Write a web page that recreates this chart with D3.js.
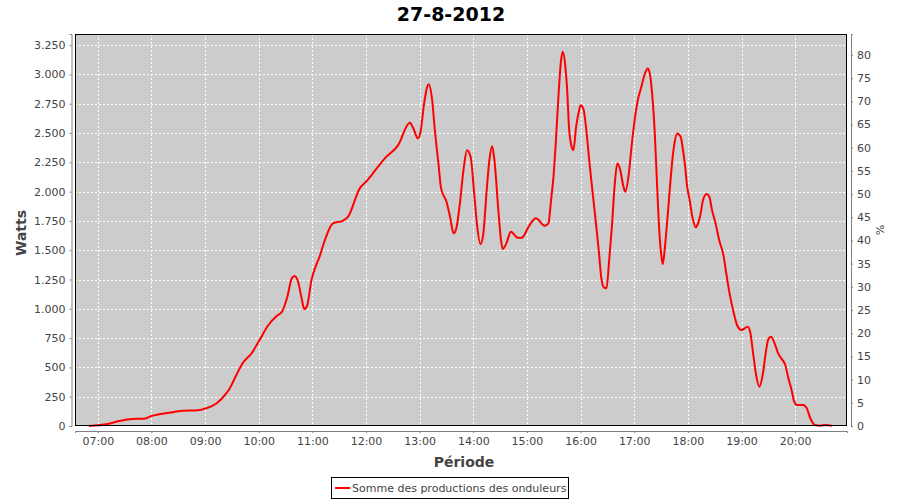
<!DOCTYPE html>
<html><head><meta charset="utf-8">
<script src="https://cdn.jsdelivr.net/npm/d3@7"></script>
<style>body{margin:0;background:#fff}svg{display:block}</style>
</head><body>
<svg id="c" width="900" height="500"></svg>
<script>
const title = "27-8-2012";
const seriesName = "Somme des productions des onduleurs";
const times = ["06:50","07:11","07:24","07:39","07:52","08:00","08:20","08:35","08:52","09:01","09:13","09:20","09:27","09:35","09:42","09:52","10:01","10:10","10:20","10:26","10:32","10:37","10:40","10:44","10:48","10:51","10:54","10:59","11:05","11:08","11:14","11:23","11:34","11:40","11:53","12:00","12:12","12:21","12:36","12:49","12:53","12:58","13:01","13:05","13:10","13:14","13:17","13:21","13:24","13:30","13:34","13:38","13:41","13:45","13:49","13:53","13:57","14:01","14:04","14:08","14:11","14:15","14:18","14:21","14:24","14:28","14:31","14:33","14:37","14:42","14:50","14:54","15:03","15:10","15:20","15:24","15:27","15:30","15:32","15:35","15:38","15:40","15:43","15:45","15:47","15:50","15:52","15:55","15:58","16:00","16:03","16:07","16:10","16:14","16:18","16:21","16:23","16:26","16:29","16:32","16:35","16:38","16:41","16:44","16:48","16:50","16:54","16:57","17:01","17:04","17:08","17:12","17:15","17:17","17:20","17:23","17:25","17:27","17:29","17:31","17:32","17:34","17:37","17:40","17:43","17:45","17:48","17:52","17:54","17:57","17:59","18:02","18:05","18:09","18:11","18:14","18:17","18:21","18:24","18:27","18:31","18:35","18:40","18:43","18:47","18:51","18:55","19:00","19:07","19:10","19:13","19:16","19:20","19:24","19:27","19:30","19:33","19:37","19:41","19:45","19:49","19:52","19:56","19:59","20:02","20:09","20:13","20:17","20:22","20:28","20:34","20:41"];
const watts = [0,17,43,60,62,85,113,130,134,151,194,245,313,435,535,620,734,853,938,975,1103,1260,1280,1231,1089,998,1024,1245,1388,1444,1587,1729,1751,1786,2028,2084,2198,2284,2397,2587,2539,2454,2511,2753,2917,2781,2525,2241,2028,1913,1786,1644,1686,1900,2184,2354,2297,1985,1729,1553,1629,2013,2269,2388,2241,1842,1587,1510,1558,1657,1606,1606,1715,1772,1709,1729,1928,2156,2383,2781,3108,3193,3065,2866,2553,2383,2354,2553,2681,2738,2710,2482,2241,1956,1672,1444,1274,1183,1175,1416,1700,2041,2241,2198,2041,1999,2156,2383,2639,2781,2894,3008,3051,3022,2838,2497,2156,1814,1558,1416,1382,1501,1757,2041,2297,2411,2497,2468,2383,2212,2056,1928,1786,1695,1721,1800,1928,1979,1956,1842,1729,1587,1450,1300,1117,975,862,819,847,791,620,450,335,450,620,740,762,705,620,572,520,421,307,207,179,179,151,66,9,3,9,3];
const xTickLabels = ["07:00","08:00","09:00","10:00","11:00","12:00","13:00","14:00","15:00","16:00","17:00","18:00","19:00","20:00"];
const wattTicks = [0,250,500,750,1000,1250,1500,1750,2000,2250,2500,2750,3000,3250];
const pctTicks = [0,5,10,15,20,25,30,35,40,45,50,55,60,65,70,75,80];

const day = "2012-08-27T";
const parse = s => new Date(day + s + ":00");
const data = times.map((t,i)=>({t:parse(t), v:watts[i]}));

const L=75, R=847, T=34, B=426;
const svg = d3.select("#c");
const x = d3.scaleTime().domain([new Date(day+"06:34:30"), new Date(day+"20:58:00")]).range([L,R]);
const y = d3.scaleLinear().domain([0,3345]).range([B,T]);
const y2 = d3.scaleLinear().domain([0,84.5]).range([B,T]);
const font = "DejaVu Sans, Verdana, sans-serif";

svg.append("rect").attr("x",L).attr("y",T).attr("width",R-L).attr("height",B-T).attr("fill","#cccccc");

// gridlines
const g = svg.append("g").attr("stroke","#fff").attr("stroke-width",1).attr("stroke-dasharray","2,2");
xTickLabels.forEach(h=>{const px=Math.round(x(parse(h)))+0.5;
  g.append("line").attr("x1",px).attr("x2",px).attr("y1",T).attr("y2",B);});
wattTicks.forEach(w=>{const py=Math.round(y(w))+0.5;
  g.append("line").attr("x1",L).attr("x2",R).attr("y1",py).attr("y2",py);});

// line
svg.append("path").datum(data)
  .attr("fill","none").attr("stroke","#ff0000").attr("stroke-width",2).attr("stroke-linejoin","round")
  .attr("d", d3.line().x(d=>x(d.t)).y(d=>y(d.v)).curve(d3.curveMonotoneX));

svg.append("rect").attr("x",L+0.5).attr("y",T+0.5).attr("width",R-L-1).attr("height",B-T-1)
  .attr("fill","none").attr("stroke","#000").attr("stroke-width",1);

// axes
const axCol = "#808080", txtCol = "#444";
function style(sel){
  sel.select(".domain").attr("stroke",axCol);
  sel.selectAll(".tick line").attr("stroke",axCol);
  sel.selectAll(".tick text").attr("fill",txtCol).attr("font-family",font).attr("font-size",11);
}
const xa = svg.append("g").attr("transform","translate(0,431)")
  .call(d3.axisBottom(x).tickValues(xTickLabels.map(parse)).tickFormat(d3.timeFormat("%H:%M")).tickSizeOuter(0).tickSize(2).tickPadding(4));
style(xa);
const ya = svg.append("g").attr("transform","translate(71.5,0)")
  .call(d3.axisLeft(y).tickValues(wattTicks).tickFormat(d=>d3.format(",")(d).replace(/,/g,".")).tickSizeOuter(0).tickSize(2).tickPadding(4));
style(ya);
const ya2 = svg.append("g").attr("transform","translate(851,0)")
  .call(d3.axisRight(y2).tickValues(pctTicks).tickSizeOuter(0).tickSize(2).tickPadding(4));
style(ya2);

// labels
svg.append("text").attr("x",451).attr("y",21).attr("text-anchor","middle")
  .attr("font-family",font).attr("font-weight","bold").attr("font-size",19).attr("fill","#000").text(title);
svg.append("text").attr("transform","translate(26,233) rotate(-90)").attr("text-anchor","middle")
  .attr("font-family",font).attr("font-weight","bold").attr("font-size",14).attr("fill",txtCol).text("Watts");
svg.append("text").attr("transform","translate(876,230) rotate(90)").attr("text-anchor","middle")
  .attr("font-family",font).attr("font-size",11).attr("fill",txtCol).text("%");
svg.append("text").attr("x",464).attr("y",467).attr("text-anchor","middle")
  .attr("font-family",font).attr("font-weight","bold").attr("font-size",14).attr("fill",txtCol).text("Période");

// legend
const lg = svg.append("g");
lg.append("rect").attr("x",331.5).attr("y",477.5).attr("width",237).attr("height",21).attr("fill","#fff").attr("stroke","#000");
lg.append("line").attr("x1",335).attr("x2",350).attr("y1",488).attr("y2",488).attr("stroke","#ff0000").attr("stroke-width",2);
lg.append("text").attr("x",352).attr("y",492).attr("font-family",font).attr("font-size",11).attr("fill",txtCol).text(seriesName);
</script>
</body></html>
